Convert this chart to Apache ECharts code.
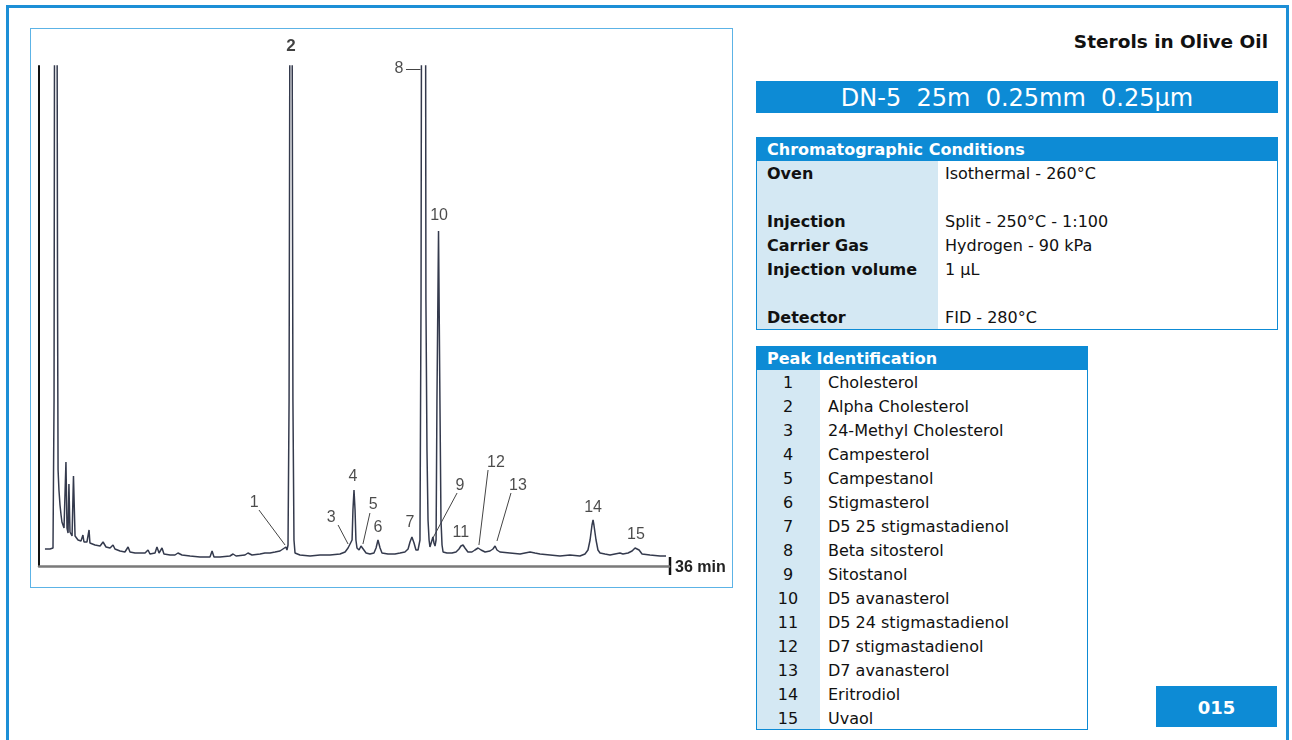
<!DOCTYPE html>
<html>
<head>
<meta charset="utf-8">
<script src="https://cdn.jsdelivr.net/npm/echarts@6/dist/echarts.min.js"></script>
<style>
  body { margin: 0; width: 1292px; height: 740px; overflow: hidden; background: #fff; font-family: "DejaVu Sans", sans-serif; }
  .frame { position: absolute; left: 6px; top: 5px; width: 1283px; height: 780px; border: 3px solid #1d8fd6; box-sizing: border-box; }
  #chart { position: absolute; left: 30px; top: 28px; width: 703px; height: 560px; border: 1px solid #5cb3e6; box-sizing: border-box; background: #fff; }
  .title { position: absolute; right: 24px; top: 31px; font-weight: bold; font-size: 18.5px; color: #111; }
  .column { position: absolute; left: 756px; top: 81px; width: 522px; height: 32px; background: #0d8bd5; color: #fff; font-size: 24px; line-height: 34px; text-align: center; white-space: pre; }
  .box { position: absolute; border: 1px solid #0d8bd5; box-sizing: border-box; background: #fff; }
  .box .head { background: #0d8bd5; color: #fff; font-weight: bold; font-size: 16px; height: 23px; line-height: 23px; padding-left: 10px; white-space: pre; }
  .box .side { position: absolute; left: 0; bottom: 0; background: #d4e8f3; }
  .row { position: relative; height: 24px; line-height: 25px; font-size: 16px; color: #111; white-space: nowrap; }
  .num { position: absolute; left: 0; width: 62px; text-align: center; }
  .lab { position: absolute; left: 10px; font-weight: bold; }
  .val { position: absolute; }
  .code { position: absolute; left: 1156px; top: 686px; width: 121px; height: 41px; background: #0d8bd5; color: #fff; font-weight: bold; font-size: 18px; line-height: 43px; text-align: center; }
</style>
</head>
<body>
<div class="frame"></div>
<div id="chart"></div>
<div class="title">Sterols in Olive Oil</div>
<div class="column">DN-5  25m  0.25mm  0.25µm</div>
<div class="box" id="cond" style="left:756px; top:137px; width:522px; height:193px;">
  <div class="side" style="width:181px; top:23px;"></div>
  <div class="head">Chromatographic Conditions</div>
</div>
<div class="box" id="peaks" style="left:756px; top:346px; width:332px; height:384px;">
  <div class="side" style="width:63px; top:23px;"></div>
  <div class="head">Peak Identification</div>
</div>
<div class="code">015</div>

<script>
// retention time (min) and detector signal
var times = [0.34, 0.63, 0.80, 0.86, 0.89, 1.03, 1.06, 1.09, 1.14, 1.20, 1.26, 1.31, 1.43, 1.49, 1.54, 1.60, 1.66, 1.71, 1.77, 1.89,
  1.97, 2.06, 2.23, 2.40, 2.51, 2.57, 2.74, 2.86, 2.91, 3.20, 3.49, 3.66, 3.83, 4.06, 4.23, 4.34, 4.63, 4.91, 5.09, 5.20,
  5.49, 5.77, 6.06, 6.23, 6.34, 6.63, 6.74, 6.86, 7.03, 7.14, 7.49, 7.77, 7.94, 8.17, 8.63, 9.20, 9.77, 9.89, 10.00, 10.34,
  10.91, 11.09, 11.26, 11.77, 11.94, 12.17, 12.63, 12.91, 13.20, 13.49, 13.77, 13.94, 14.00, 14.11, 14.17, 14.23, 14.29, 14.34, 14.46, 14.51,
  14.57, 14.63, 14.91, 15.49, 16.06, 16.63, 17.20, 17.49, 17.66, 17.77, 17.89, 17.94, 18.00, 18.06, 18.11, 18.17, 18.29, 18.40, 18.51, 18.69,
  18.91, 19.14, 19.26, 19.37, 19.49, 19.60, 19.94, 20.34, 20.63, 20.91, 21.09, 21.20, 21.31, 21.43, 21.54, 21.66, 21.77, 21.83, 21.86, 22.09,
  22.11, 22.17, 22.23, 22.29, 22.34, 22.40, 22.46, 22.51, 22.57, 22.63, 22.69, 22.74, 22.83, 22.91, 22.97, 23.03, 23.09, 23.31, 23.60, 23.83,
  24.00, 24.11, 24.23, 24.34, 24.51, 24.74, 24.91, 25.09, 25.26, 25.49, 25.77, 25.94, 26.06, 26.17, 26.34, 26.91, 27.49, 27.77, 28.06, 28.34,
  28.63, 29.20, 29.77, 30.34, 30.91, 31.20, 31.37, 31.49, 31.60, 31.66, 31.71, 31.83, 31.94, 32.06, 32.34, 32.63, 32.91, 33.20, 33.37, 33.66,
  33.89, 34.06, 34.17, 34.29, 34.46, 34.91, 35.49, 35.83];
var signal = [17, 17, 18, 166, 580, 580, 266, 96, 76, 61, 51, 44, 38, 36, 104, 38, 33, 82, 34, 30,
  90, 30, 26, 25, 31, 24, 24, 36, 23, 21, 20, 24, 19, 18, 21, 17, 15, 14, 19, 14,
  13, 13, 13, 16, 12, 13, 19, 13, 18, 12, 11, 11, 13, 11, 10, 9, 9, 15, 9, 9,
  10, 12, 10, 11, 13, 11, 12, 13, 13, 14, 15, 17, 15, 19, 16, 21, 166, 580, 580, 166,
  26, 13, 11, 10, 11, 11, 12, 14, 18, 20, 26, 56, 76, 56, 26, 18, 16, 20, 18, 13,
  12, 13, 18, 26, 18, 13, 12, 12, 13, 14, 17, 24, 29, 23, 16, 16, 26, 266, 580, 580,
  266, 116, 46, 26, 19, 21, 26, 29, 23, 20, 26, 166, 335, 166, 46, 21, 14, 13, 13, 14,
  17, 20, 21, 18, 14, 14, 16, 18, 16, 14, 15, 17, 20, 16, 14, 13, 12, 13, 14, 13,
  12, 11, 10, 11, 10, 12, 16, 26, 41, 46, 41, 26, 16, 13, 12, 11, 12, 13, 12, 13,
  15, 18, 19, 16, 12, 11, 10, 10];

// peak numbers and where their labels sit
var peakIds = ['1', '2', '3', '4', '5', '6', '7', '8', '9', '10', '11', '12', '13', '14', '15'];
var peakLabelX = [12.29, 14.40, 16.69, 17.94, 19.09, 19.37, 21.20, 20.57, 24.06, 22.86, 24.11, 26.11, 27.37, 31.66, 34.11];
var peakLabelY = [63, 520, 48, 89, 61, 38, 43, 497, 80, 350, 33, 103, 80, 58, 31];

// leader lines [x1, y1, x2, y2]
var leaders = [
  [12.57, 56, 14.06, 21],
  [17.09, 41, 17.66, 22],
  [18.91, 53, 18.51, 22],
  [23.89, 73, 22.51, 28],
  [25.66, 96, 25.14, 21],
  [26.97, 73, 26.17, 25],
  [20.97, 497, 21.80, 497]
];

var peakNames = ['Cholesterol', 'Alpha Cholesterol', '24-Methyl Cholesterol', 'Campesterol', 'Campestanol',
  'Stigmasterol', 'D5 25 stigmastadienol', 'Beta sitosterol', 'Sitostanol', 'D5 avanasterol',
  'D5 24 stigmastadienol', 'D7 stigmastadienol', 'D7 avanasterol', 'Eritrodiol', 'Uvaol'];
var condLabels = ['Oven', '', 'Injection', 'Carrier Gas', 'Injection volume', '', 'Detector'];
var condValues = ['Isothermal - 260°C', '', 'Split - 250°C - 1:100', 'Hydrogen - 90 kPa', '1 µL', '', 'FID - 280°C'];

// tables
var cond = document.getElementById('cond');
condLabels.forEach(function (l, i) {
  var r = document.createElement('div');
  r.className = 'row';
  r.innerHTML = '<span class="lab">' + l + '</span><span class="val" style="left:188px">' + condValues[i] + '</span>';
  cond.appendChild(r);
});
var peaks = document.getElementById('peaks');
peakNames.forEach(function (n, i) {
  var r = document.createElement('div');
  r.className = 'row';
  r.innerHTML = '<span class="num">' + peakIds[i] + '</span><span class="val" style="left:71px">' + n + '</span>';
  peaks.appendChild(r);
});

var myChart = echarts.init(document.getElementById('chart'));
var option = {
  animation: false,
  grid: { left: 8, top: 37, width: 630, height: 500 },
  xAxis: {
    type: 'value', min: 0, max: 36,
    axisLine: { show: true, lineStyle: { color: '#7a7a7a', width: 2.5 } },
    axisTick: { show: false }, axisLabel: { show: false }, splitLine: { show: false }
  },
  yAxis: {
    type: 'value', min: 0, max: 500,
    axisLine: { show: true, lineStyle: { color: '#111', width: 2 } },
    axisTick: { show: false }, axisLabel: { show: false }, splitLine: { show: false }
  },
  series: [
    {
      type: 'line',
      data: times.map(function (t, i) { return [t, signal[i]]; }),
      showSymbol: false,
      clip: true,
      lineStyle: { color: '#343a4d', width: 1.5 }
    },
    {
      type: 'lines',
      coordinateSystem: 'cartesian2d',
      data: leaders.map(function (l) { return { coords: [[l[0], l[1]], [l[2], l[3]]] }; }),
      lineStyle: { color: '#444', width: 1, opacity: 1 },
      silent: true
    },
    {
      type: 'scatter',
      clip: false,
      symbolSize: 1,
      itemStyle: { color: 'rgba(0,0,0,0)' },
      data: peakIds.map(function (p, i) { return { name: p, value: [peakLabelX[i], peakLabelY[i]] }; }),
      label: {
        show: true, position: 'inside',
        formatter: function (p) { return p.name; },
        fontFamily: 'Liberation Sans', fontSize: 16, color: '#1e1e1e'
      },
      labelLayout: { hideOverlap: false }
    }
  ]
};
// peak 2 label is bold in the original
option.series[2].data[1].label = { fontWeight: 'bold', fontSize: 17, color: '#111' };
myChart.setOption(option);

// end-of-run marker at 36 min
var end = myChart.convertToPixel({ gridIndex: 0 }, [36, 0]);
myChart.setOption({
  graphic: [
    { type: 'line', shape: { x1: end[0] + 1, y1: end[1] - 9, x2: end[0] + 1, y2: end[1] + 9 }, style: { stroke: '#111', lineWidth: 2.5 } },
    { type: 'text', x: end[0] + 6, y: end[1] + 2, style: { text: '36 min', font: 'bold 16px "Liberation Sans"', fill: '#222', textVerticalAlign: 'middle' } }
  ]
});
</script>
</body>
</html>
